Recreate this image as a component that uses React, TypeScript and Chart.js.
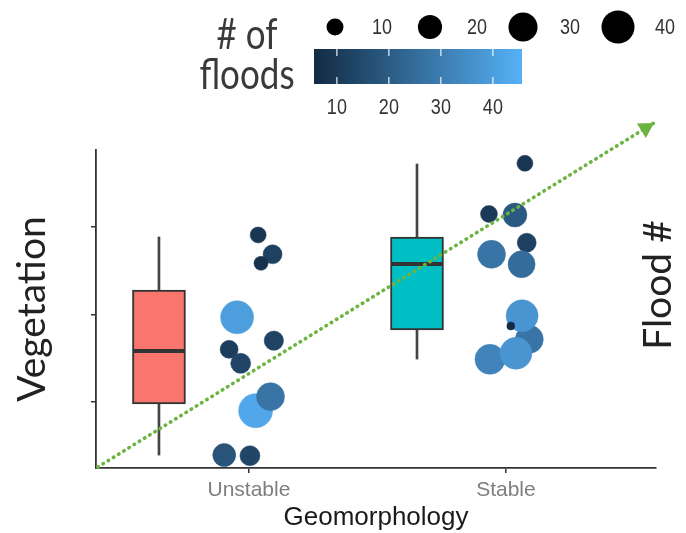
import { useEffect, useRef } from 'react';
import { Chart, registerables } from 'chart.js';

Chart.register(...registerables);

// ---- Data ----
const categories = ['Unstable', 'Stable'];
const categoryPositions = [1, 2];
const yTickValues = [1, 2, 3];

// boxplot summary (Vegetation)
const boxCenters = [0.65, 1.654];
const boxQ1 = [0.977, 1.823];
const boxMedian = [1.583, 2.577];
const boxQ3 = [2.28, 2.886];
const whiskerLow = [0.394, 1.491];
const whiskerHigh = [2.886, 3.72];
const boxColors = ['#F8766D', '#00BFC4'];

// jittered points (Flood #), with number of floods
const unstableX = [1.036, 1.092, 1.047, 0.954, 1.097, 0.923, 0.968, 1.026, 1.084, 0.904, 1.004];
const unstableY = [2.909, 2.688, 2.585, 1.968, 1.701, 1.602, 1.442, 0.901, 1.061, 0.394, 0.386];
const unstableFloods = [9.1, 12.2, 7.6, 39.9, 12.7, 11.1, 13.5, 42.7, 27.5, 17.9, 13.5];

const stableX = [2.074, 1.934, 2.035, 2.081, 1.944, 2.061, 1.938, 2.091, 2.039, 2.063, 2.019];
const stableY = [3.728, 3.149, 3.137, 2.821, 2.688, 2.574, 1.488, 1.717, 1.557, 1.986, 1.869];
const stableFloods = [9.1, 10.0, 19.6, 12.2, 27.5, 25.4, 32.2, 27.5, 37.2, 37.2, 5.6];

// trend arrow
const trendX = [0.412, 2.576];
const trendY = [0.257, 4.189];

// legend
const floodLimits = [5.6, 45.6];
const legendBreaks = [10, 20, 30, 40];

const lowColor = [19, 43, 67];
const highColor = [86, 177, 247];

function frac(f: number) {
  const t = (f - floodLimits[0]) / (floodLimits[1] - floodLimits[0]);
  return Math.max(0, Math.min(1, t));
}
function floodColor(f: number) {
  const t = frac(f);
  const c = lowColor.map((l, i) => Math.round(l + (highColor[i] - l) * t));
  return `rgb(${c[0]},${c[1]},${c[2]})`;
}
function floodRadius(f: number) {
  return 4 + 13.5 * Math.sqrt(frac(f));
}

function points(xs: number[], ys: number[], fs: number[]) {
  return xs.map((x, i) => ({ x, y: ys[i], f: fs[i] }));
}

const ARROW_INDEX = 5;

const overlayPlugin = {
  id: 'overlay',
  afterDatasetsDraw(chart: any) {
    const ctx = chart.ctx;
    const meta = chart.getDatasetMeta(ARROW_INDEX);
    const p1 = meta.data[0];
    const p2 = meta.data[1];
    if (!p1 || !p2) return;
    const ang = Math.atan2(p2.y - p1.y, p2.x - p1.x);
    const len = 17;
    const half = Math.PI / 6;
    ctx.save();
    ctx.fillStyle = '#6BB440';
    ctx.beginPath();
    ctx.moveTo(p2.x, p2.y);
    ctx.lineTo(p2.x - len * Math.cos(ang - half), p2.y - len * Math.sin(ang - half));
    ctx.lineTo(p2.x - len * Math.cos(ang + half), p2.y - len * Math.sin(ang + half));
    ctx.closePath();
    ctx.fill();
    ctx.restore();
  },
  afterDraw(chart: any) {
    const ctx = chart.ctx;
    ctx.save();
    // "Flood #" right label
    ctx.fillStyle = '#222';
    ctx.font = '39px Lato';
    ctx.textAlign = 'center';
    ctx.textBaseline = 'middle';
    ctx.save();
    ctx.translate(658, 285);
    ctx.rotate(-Math.PI / 2);
    ctx.fillText('Flood #', 0, 0);
    ctx.restore();

    // legend title
    ctx.fillStyle = '#3a3a3a';
    ctx.font = '35px Lato';
    const drawStretched = (text: string, x: number, y: number) => {
      ctx.save();
      ctx.translate(x, y);
      ctx.scale(1, 1.2);
      ctx.fillText(text, 0, 0);
      ctx.restore();
    };
    drawStretched('# of', 247, 35);
    drawStretched('floods', 247, 75);

    // size legend
    const keyX = [335, 430, 523, 618];
    ctx.font = '18px "Liberation Sans"';
    ctx.textAlign = 'left';
    legendBreaks.forEach((b, i) => {
      ctx.fillStyle = '#000';
      ctx.beginPath();
      ctx.arc(keyX[i], 27, floodRadius(b), 0, Math.PI * 2);
      ctx.fill();
      ctx.fillStyle = '#333';
      drawStretched(String(b), keyX[i] + 37, 28);
    });

    // colour bar
    const bx0 = 314, bx1 = 522, by0 = 49, by1 = 84;
    const grad = ctx.createLinearGradient(bx0, 0, bx1, 0);
    for (let s = 0; s <= 10; s++) {
      const f = floodLimits[0] + (floodLimits[1] - floodLimits[0]) * (s / 10);
      grad.addColorStop(s / 10, floodColor(f));
    }
    ctx.fillStyle = grad;
    ctx.fillRect(bx0, by0, bx1 - bx0, by1 - by0);
    ctx.strokeStyle = 'rgba(255,255,255,0.85)';
    ctx.lineWidth = 1.3;
    ctx.textAlign = 'center';
    legendBreaks.forEach((b) => {
      const x = bx0 + frac(b) * (bx1 - bx0);
      ctx.beginPath();
      ctx.moveTo(x, by0);
      ctx.lineTo(x, by0 + 7);
      ctx.moveTo(x, by1 - 7);
      ctx.lineTo(x, by1);
      ctx.stroke();
      ctx.fillStyle = '#333';
      drawStretched(String(b), x, 108);
    });
    ctx.restore();
  },
};

export default function App() {
  const ref = useRef<HTMLCanvasElement>(null);

  useEffect(() => {
    document.body.style.margin = '0';
    const unstablePts = points(unstableX, unstableY, unstableFloods);
    const stablePts = points(stableX, stableY, stableFloods);

    const chart = new Chart(ref.current as HTMLCanvasElement, {
      type: 'scatter',
      data: {
        datasets: [
          {
            type: 'bar',
            label: 'whiskers',
            data: boxCenters.map((x, i) => ({ x, y: [whiskerLow[i], whiskerHigh[i]] })) as any,
            backgroundColor: '#444',
            borderWidth: 0,
            barThickness: 2,
            grouped: false,
            order: 5,
          } as any,
          {
            type: 'bar',
            label: 'box',
            data: boxCenters.map((x, i) => ({ x, y: [boxQ1[i], boxQ3[i]] })) as any,
            backgroundColor: boxColors,
            borderColor: '#333',
            borderWidth: 2,
            borderSkipped: false,
            barThickness: 53,
            grouped: false,
            order: 4,
          } as any,
          {
            type: 'scatter',
            label: 'median',
            data: boxCenters.map((x, i) => ({ x, y: boxMedian[i] })),
            pointStyle: 'line',
            pointRadius: 25.5,
            pointHoverRadius: 25.5,
            borderColor: '#333',
            borderWidth: 4,
            order: 3,
          } as any,
          {
            type: 'scatter',
            label: 'Unstable points',
            data: unstablePts as any,
            pointRadius: unstableFloods.map(floodRadius),
            pointHoverRadius: unstableFloods.map(floodRadius),
            backgroundColor: unstableFloods.map(floodColor),
            borderColor: unstableFloods.map(floodColor),
            borderWidth: 0.5,
            order: 2,
          } as any,
          {
            type: 'scatter',
            label: 'Stable points',
            data: stablePts as any,
            pointRadius: stableFloods.map(floodRadius),
            pointHoverRadius: stableFloods.map(floodRadius),
            backgroundColor: stableFloods.map(floodColor),
            borderColor: stableFloods.map(floodColor),
            borderWidth: 0.5,
            order: 1,
          } as any,
          {
            type: 'line',
            label: 'trend',
            data: trendX.map((x, i) => ({ x, y: trendY[i] })),
            showLine: true,
            borderColor: '#6BB440',
            borderWidth: 3.6,
            borderDash: [0.5, 5.6],
            borderCapStyle: 'round',
            pointRadius: 0,
            pointHoverRadius: 0,
            fill: false,
            clip: false as any,
            order: 0,
          } as any,
        ],
      },
      options: {
        responsive: false,
        animation: false,
        events: [],
        layout: { padding: { top: 150, right: 30, left: 0, bottom: 0 } },
        plugins: {
          legend: { display: false },
          tooltip: { enabled: false },
        },
        scales: {
          x: {
            type: 'linear',
            min: 0.405,
            max: 2.584,
            offset: false,
            afterBuildTicks: (s: any) => {
              s.ticks = categoryPositions.map((v) => ({ value: v }));
            },
            afterFit: (s: any) => {
              s.height = 65;
            },
            ticks: {
              autoSkip: false,
              maxRotation: 0,
              padding: 5,
              color: '#7f7f7f',
              font: { family: '"Liberation Sans"', size: 21 },
              callback: (v: any) => {
                const i = categoryPositions.indexOf(Number(v));
                return i >= 0 ? categories[i] : '';
              },
            },
            grid: {
              offset: false,
              drawOnChartArea: false,
              drawTicks: true,
              tickLength: 5,
              color: '#333',
              lineWidth: 1.5,
            },
            border: { display: true, color: '#333', width: 1.8 },
            title: {
              display: true,
              text: 'Geomorphology',
              color: '#1a1a1a',
              font: { family: '"Liberation Sans"', size: 26 },
              padding: { top: 0, bottom: 0 },
            },
          },
          y: {
            type: 'linear',
            min: 0.246,
            max: 3.88,
            afterBuildTicks: (s: any) => {
              s.ticks = yTickValues.map((v) => ({ value: v }));
            },
            afterFit: (s: any) => {
              s.width = 96;
            },
            ticks: { display: false },
            grid: {
              drawOnChartArea: false,
              drawTicks: true,
              tickLength: 5,
              color: '#333',
              lineWidth: 1.5,
            },
            border: { display: true, color: '#333', width: 1.8 },
            title: {
              display: true,
              text: 'Vegetation',
              color: '#222',
              font: { family: 'Lato', size: 39 },
              padding: { top: 9, bottom: 0 },
            },
          },
        },
      },
      plugins: [overlayPlugin as any],
    });
    return () => chart.destroy();
  }, []);

  return (
    <div style={{ width: 686, height: 533 }}>
      <canvas ref={ref} width={686} height={533} style={{ display: 'block' }} />
    </div>
  );
}
